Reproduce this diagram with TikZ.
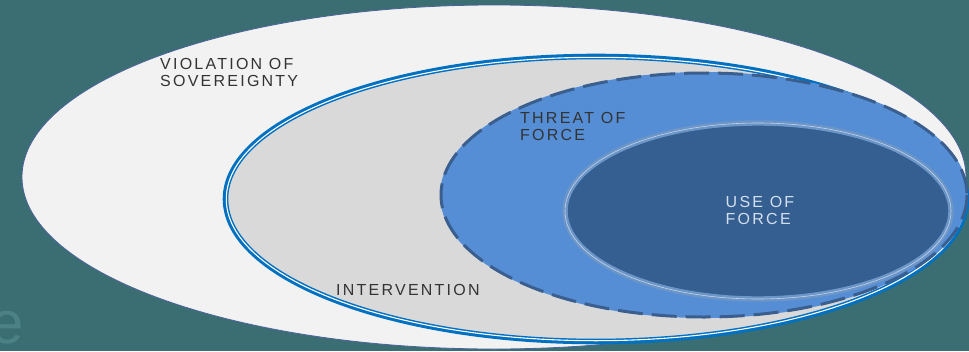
\documentclass[tikz,border=0pt]{standalone}
\usepackage{fontspec}
\setmainfont{Liberation Sans}
\newfontfamily\spaced[LetterSpace=14]{Liberation Sans}
\definecolor{bg}{HTML}{3A6E73}
\definecolor{outerfill}{HTML}{F2F2F2}
\definecolor{outerline}{HTML}{4A6199}
\definecolor{intfill}{HTML}{D9D9D9}
\definecolor{intline}{HTML}{0070C0}
\definecolor{threatfill}{HTML}{558ED5}
\definecolor{threatline}{HTML}{3A5F8F}
\definecolor{usefill}{HTML}{355F91}
\definecolor{useline}{HTML}{6C95C8}
\definecolor{txt}{HTML}{333333}
\definecolor{ghost}{HTML}{4C8286}
\tikzset{
  lbl/.style={font=\spaced\fontsize{16}{17.5}\selectfont, text=txt, align=left, inner sep=0pt},
}
\begin{document}
\begin{tikzpicture}[x=1pt,y=-1pt]
\useasboundingbox (0,0) rectangle (969,351);
\fill[bg] (0,0) rectangle (969,351);
\begin{scope}
\clip (0,0) rectangle (969,351);
\node[anchor=base west, inner sep=0pt, text=ghost, font=\fontsize{60}{60}\selectfont] (ghostE) at (-10,343) {e};
\draw[outerline, fill=outerfill, line width=0.8] (494,177) ellipse [x radius=472, y radius=172];
\fill[intfill] (596,199) ellipse [x radius=370, y radius=142];
\draw[intline, line width=5.6] (596,199) ellipse [x radius=370.5, y radius=142.5];
\draw[white, line width=1.1] (596,199) ellipse [x radius=369.7, y radius=141.7];
\fill[threatfill] (704,195) ellipse [x radius=264, y radius=123];
\draw[threatline, line width=3, dash pattern=on 25pt off 9pt] (704,195) ellipse [x radius=263, y radius=122];
\draw[useline, fill=usefill, line width=2.4, double=useline!40!white, double distance=0.6] (758,211) ellipse [x radius=193, y radius=88];
\end{scope}
\node[lbl, anchor=north west] (viol) at (160,58) {VIOLATION OF\\SOVEREIGNTY};
\node[lbl, anchor=north west] (threat) at (520,112) {THREAT OF\\FORCE};
\node[lbl, anchor=north west] (interv) at (336,284) {INTERVENTION};
\node[lbl, anchor=north, text=useline!30!white, align=left] (use) at (760,196) {USE OF\\FORCE};
\end{tikzpicture}
\end{document}
